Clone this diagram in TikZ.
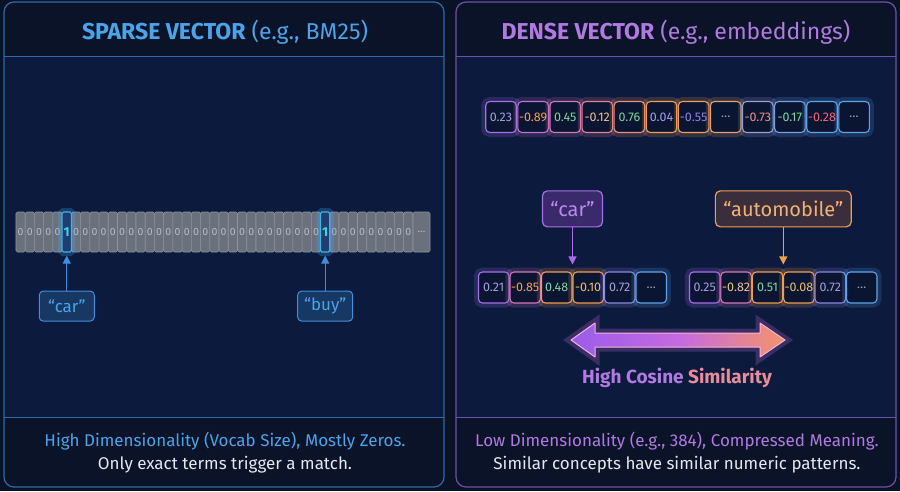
\documentclass[tikz,border=0pt]{standalone}
\usepackage{fontspec}
\setmainfont{Fira Sans}
\usepackage{xcolor}
\definecolor{vecBg}{HTML}{0A1226}
\definecolor{vecPanel}{HTML}{0C1A3D}
\definecolor{vecHead}{HTML}{0A1328}
\definecolor{sparseEdge}{HTML}{2F6AA8}
\definecolor{sparseBlue}{HTML}{4BA3EA}
\definecolor{denseEdge}{HTML}{6E50AA}
\definecolor{densePurple}{HTML}{B07AE0}
\definecolor{zeroFill}{HTML}{6B707D}
\definecolor{zeroEdge}{HTML}{8E939F}
\definecolor{zeroText}{HTML}{B8BCC6}
\definecolor{hitFill}{HTML}{1E3E6E}
\definecolor{hitEdge}{HTML}{3FB2F2}
\definecolor{hitText}{HTML}{3FD2F2}
\definecolor{lblBlueFill}{HTML}{163862}
\definecolor{lblBlue}{HTML}{3F8EE0}
\definecolor{lblPurpleFill}{HTML}{3A2A6C}
\definecolor{lblOrangeFill}{HTML}{3A2E3C}
% cell borders, left to right
\definecolor{dcA}{HTML}{A86EEA}
\definecolor{dcB}{HTML}{C072D2}
\definecolor{dcC}{HTML}{D878B8}
\definecolor{dcD}{HTML}{E88092}
\definecolor{dcE}{HTML}{F09072}
\definecolor{dcF}{HTML}{F09E52}
\definecolor{dcG}{HTML}{E8A066}
\definecolor{dcH}{HTML}{9AA0C8}
\definecolor{dcI}{HTML}{72A2E2}
\definecolor{dcJ}{HTML}{5AA6EE}
\definecolor{dcK}{HTML}{8A88E0}
% cell values
\definecolor{tLav}{HTML}{A89CE2}
\definecolor{tPurple}{HTML}{9A7EE6}
\definecolor{tOrange}{HTML}{F0A062}
\definecolor{tGreen}{HTML}{7CD8A0}
\definecolor{tPeach}{HTML}{F0C092}
\definecolor{tYellow}{HTML}{E8C070}
\definecolor{tSalmon}{HTML}{F09080}
\definecolor{tRed}{HTML}{F06A74}
\definecolor{tGrey}{HTML}{9AA0B2}
\definecolor{arrPurple}{HTML}{9A5CEA}
\definecolor{arrMid}{HTML}{C46AE0}
\definecolor{arrOrange}{HTML}{F4946A}
\definecolor{arrEdge}{HTML}{F2B4D8}
\definecolor{simOrange}{HTML}{E88C9C}
\definecolor{footWhite}{HTML}{E6E8EE}
\usepackage{tikz}
\usetikzlibrary{
    arrows.meta,
    positioning,
    calc,
    backgrounds
}

\begin{document}
\begin{tikzpicture}[
    x=1pt, y=-1pt,
    titleText/.style={
        font=\fontsize{23}{27}\selectfont, inner sep=0pt
    },
    zeroCell/.style={
        rectangle, rounded corners=1.5pt,
        draw=zeroEdge, line width=0.6pt, fill=zeroFill, text=zeroText,
        minimum width=9.23pt, minimum height=40pt, inner sep=0pt,
        font=\fontsize{10.5}{12}\selectfont
    },
    hitCell/.style={
        zeroCell, draw=hitEdge, line width=1.2pt, fill=hitFill, text=hitText,
        font=\fontsize{13}{15}\selectfont\bfseries,
        preaction={draw=hitEdge, line width=8pt, opacity=0.25}
    },
    sparseLabel/.style={
        rectangle, rounded corners=4pt,
        draw=lblBlue, line width=1pt, fill=lblBlueFill, text=sparseBlue,
        minimum width=55pt, minimum height=30pt, inner sep=2pt,
        font=\fontsize{17}{19}\selectfont
    },
    denseCell/.style={
        rectangle, rounded corners=4pt,
        draw=#1, line width=1.1pt, fill=vecPanel!80!black,
        minimum width=30.5pt, minimum height=31pt, inner sep=0pt,
        font=\fontsize{12.5}{14}\selectfont,
        preaction={draw=#1, line width=9pt, opacity=0.18}
    },
    denseLabel/.style={
        rectangle, rounded corners=5pt,
        draw=#1, line width=1.2pt, text=#1!80!white,
        minimum height=36pt, inner xsep=8pt,
        font=\fontsize{20}{22}\selectfont
    },
    sparseArrow/.style={
        -{Triangle[length=8pt, width=8pt]}, line width=1.2pt, draw=lblBlue
    },
    denseArrow/.style={
        -{Triangle[length=8pt, width=8pt]}, line width=1.2pt, draw=#1
    },
    footText/.style={
        align=center, text=footWhite, inner sep=0pt,
        font=\fontsize{17}{23}\selectfont
    }
]

    % Background and the two panels
    \fill[vecBg] (0,0) rectangle (900,491);
    \useasboundingbox (0,0) rectangle (900,491);

    \fill[vecHead, rounded corners=10pt] (4,2) rectangle (444,487);
    \fill[vecPanel] (5,56) rectangle (443,417);
    \draw[sparseEdge, line width=1.2pt, rounded corners=10pt] (4,2) rectangle (444,487);
    \draw[sparseEdge, line width=1pt] (4,56) -- (444,56);
    \draw[sparseEdge, line width=1pt] (4,417) -- (444,417);

    \fill[vecHead, rounded corners=10pt] (456,2) rectangle (896,487);
    \fill[vecPanel] (457,56) rectangle (895,417);
    \draw[denseEdge, line width=1.2pt, rounded corners=10pt] (456,2) rectangle (896,487);
    \draw[denseEdge, line width=1pt] (456,56) -- (896,56);
    \draw[denseEdge, line width=1pt] (456,417) -- (896,417);

    % Titles
    \node[titleText, text=sparseBlue] (sparseTitle) at (225,32)
        {\textbf{SPARSE VECTOR} (e.g., BM25)};
    \node[titleText, text=densePurple] (denseTitle) at (676,32)
        {\textbf{DENSE VECTOR} (e.g., embeddings)};

    % Sparse vector: mostly zeros
    \foreach \i in {0,...,42} {
        \ifnum\i=5 \else \ifnum\i=33 \else
            \node[zeroCell] (s\i) at ({20.6+9.23*\i},232) {0};
        \fi\fi
    }
    \node[zeroCell, minimum width=17pt] (sEnd) at (421.5,232) {\ldots};
    \node[hitCell] (carCell) at ({20.6+9.23*5},232) {1};
    \node[hitCell] (buyCell) at ({20.6+9.23*33},232) {1};

    \node[sparseLabel, below=38pt of carCell] (carSparse) {“car”};
    \node[sparseLabel, below=38pt of buyCell] (buySparse) {“buy”};

    \draw[sparseArrow, shorten >=3pt] (carSparse) -- (carCell);
    \draw[sparseArrow, shorten >=3pt] (buySparse) -- (buyCell);

    % Dense vector: full embedding
    \foreach \v/\bc/\tc [count=\k] in {
        0.23/dcA/tLav, -0.89/dcB/tOrange, 0.45/dcC/tGreen, -0.12/dcD/tPeach,
        0.76/dcE/tGreen, 0.04/dcF/tLav, -0.55/dcF/tPurple, \ldots/dcG/tGrey,
        -0.73/dcH/tSalmon, -0.17/dcI/tGreen, -0.28/dcJ/tRed, \ldots/dcJ/tGrey} {
        \node[denseCell=\bc, text=\tc] (t\k) at ({501+32.1*(\k-1)},117) {\v};
    }

    % "car" embedding
    \foreach \v/\bc/\tc [count=\k] in {
        0.21/dcA/tLav, -0.85/dcC/tOrange, 0.48/dcF/tGreen,
        -0.10/dcF/tYellow, 0.72/dcK/tLav, \ldots/dcJ/tGrey} {
        \node[denseCell=\bc, text=\tc] (c\k) at ({493.7+31.5*(\k-1)},287.5) {\v};
    }

    % "automobile" embedding
    \foreach \v/\bc/\tc [count=\k] in {
        0.25/dcA/tLav, -0.82/dcC/tPeach, 0.51/dcF/tGreen,
        -0.08/dcF/tYellow, 0.72/dcK/tLav, \ldots/dcJ/tGrey} {
        \node[denseCell=\bc, text=\tc] (a\k) at ({704.7+31.4*(\k-1)},287.5) {\v};
    }

    \node[denseLabel=dcA, fill=lblPurpleFill, above=44pt of c3.north east] (carDense) {“car”};
    \node[denseLabel=dcF, fill=lblOrangeFill, above=44pt of a3.north east] (autoDense) {“automobile”};

    \draw[denseArrow=dcA, shorten >=7pt] (carDense.south) -- (carDense.south |- c3.north);
    \draw[denseArrow=dcF, shorten >=7pt] (autoDense.south) -- (autoDense.south |- a3.north);

    % Similarity arrow
    \coordinate (simL) at (571,340);
    \coordinate (simR) at (785,340);
    \path[left color=arrPurple, right color=arrOrange, middle color=arrMid,
          draw=arrEdge, line width=1pt, line join=round,
          preaction={draw=arrMid, line width=9pt, opacity=0.25}]
        (simL) -- ($(simL)+(24,-17)$) -- ($(simL)+(24,-7)$)
        -- ($(simR)+(-25,-7)$) -- ($(simR)+(-25,-17)$) -- (simR)
        -- ($(simR)+(-25,17)$) -- ($(simR)+(-25,7)$)
        -- ($(simL)+(24,7)$) -- ($(simL)+(24,17)$) -- cycle;

    \node[font=\fontsize{19}{22}\selectfont\bfseries, inner sep=0pt] (simCaption) at (677,378)
        {\textcolor{densePurple}{High Cosine} \textcolor{simOrange}{Similarity}};

    % Footers
    \node[footText] (sparseFoot) at (225,453)
        {\textcolor{sparseBlue}{High Dimensionality (Vocab Size), Mostly Zeros.}\\
         Only exact terms trigger a match.};
    \node[footText] (denseFoot) at (677,453)
        {\textcolor{densePurple}{Low Dimensionality (e.g., 384), Compressed Meaning.}\\
         Similar concepts have similar numeric patterns.};

\end{tikzpicture}
\end{document}
